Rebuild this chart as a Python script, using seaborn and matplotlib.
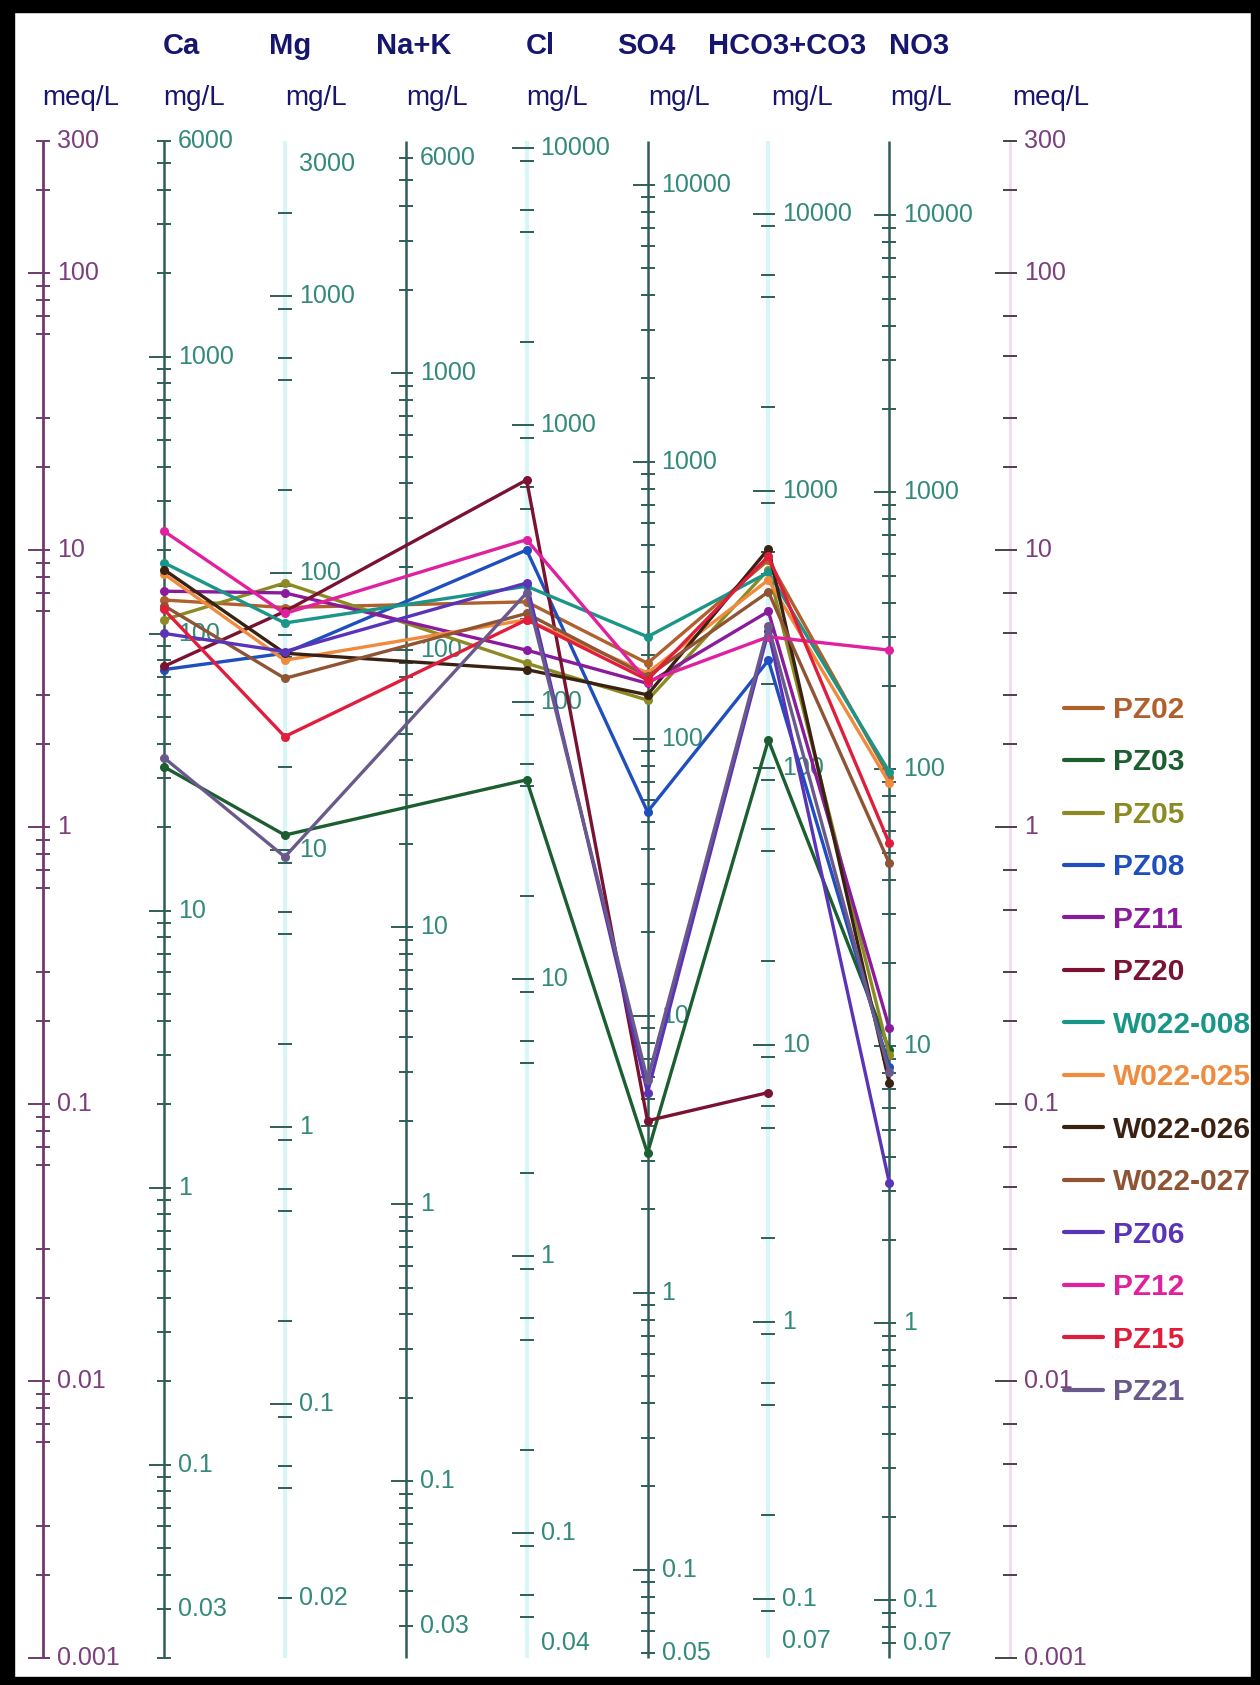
import numpy as np
import pandas as pd
import matplotlib
matplotlib.use("Agg")
import matplotlib.pyplot as plt
import seaborn as sns
from matplotlib.lines import Line2D
from matplotlib.patches import Rectangle

# ---------------- data (meq/L) ----------------
samples = ["PZ02", "PZ03", "PZ05", "PZ08", "PZ11", "PZ20", "W022-008", "W022-025",
           "W022-026", "W022-027", "PZ06", "PZ12", "PZ15", "PZ21"]
colors = ["#b0602c", "#1b5e30", "#8c8a22", "#1f4fbf", "#8a1c9c", "#7a1232", "#1a9688",
          "#f08a3c", "#3a2212", "#8e5434", "#5a34b8", "#e0209e", "#e01e3c", "#6a5a8c"]
ions = ["Ca", "Mg", "Na+K", "Cl", "SO4", "HCO3+CO3", "NO3"]
ca   = [6.6, 1.65, 5.6, 3.7, 7.1, 3.8, 9.0, 8.2, 8.5, 6.3, 5.0, 11.7, 6.1, 1.78]
mg   = [6.2, 0.935, 7.6, 4.24, 7.0, 6.0, 5.45, 4.0, 4.24, 3.44, 4.3, 5.9, 2.12, 0.78]
nak  = [np.nan] * 14
cl   = [6.5, 1.48, 3.9, 10.0, 4.35, 17.9, 7.4, 5.6, 3.7, 5.9, 7.6, 10.9, 5.6, 7.0]
so4  = [3.9, 0.0665, 2.87, 1.135, 3.3, 0.087, 4.86, 3.6, 3.0, 3.5, 0.11, 3.35, 3.4, 0.122]
hco3 = [9.2, 2.06, 8.5, 4.0, 6.0, 0.11, 8.3, 7.8, 10.1, 7.06, 5.1, 4.86, 9.5, 5.3]
no3  = [1.52, 0.157, 0.15, 0.136, 0.188, np.nan, 1.58, 1.44, 0.119, 0.74, 0.052, 4.35, 0.873, 0.13]

# axis scales: equivalent weights (mg per meq) and printed labels
axis_names = ["meq/L", "Ca", "Mg", "Na+K", "Cl", "SO4", "HCO3+CO3", "NO3", "meq/L"]
eq_weights = [1.0, 20.04, 12.15, 23.0, 35.45, 48.03, 61.0, 62.0, 1.0]
axis_labels = [
    [300, 100, 10, 1, 0.1, 0.01, 0.001],
    [6000, 1000, 100, 10, 1, 0.1, 0.03],
    [3000, 1000, 100, 10, 1, 0.1, 0.02],
    [6000, 1000, 100, 10, 1, 0.1, 0.03],
    [10000, 1000, 100, 10, 1, 0.1, 0.04],
    [10000, 1000, 100, 10, 1, 0.1, 0.05],
    [10000, 1000, 100, 10, 1, 0.1, 0.07],
    [10000, 1000, 100, 10, 1, 0.1, 0.07],
    [300, 100, 10, 1, 0.1, 0.01, 0.001],
]

# ---------------- long table ----------------
rows = []
for j, s in enumerate(samples):
    for k, vals in enumerate([ca, mg, nak, cl, so4, hco3, no3]):
        rows.append({"sample": s, "pos": k + 1, "meq": vals[j]})
df = pd.DataFrame(rows).dropna()

# ---------------- figure ----------------
sns.set_theme(style="white")
plt.rcParams["font.family"] = ["Liberation Sans", "DejaVu Sans"]

W, H = 1260, 1685
fig = plt.figure(figsize=(W / 100, H / 100), dpi=100)
ax = fig.add_axes([0, 0, 1, 1])
X0, DX = 43.0, 120.9      # pixel x of first axis, spacing
Y100, DEC = 273.0, 277.0  # pixel y of 100 meq/L, pixels per decade
XL = (-X0 / DX, (W - X0) / DX)
YL = (10 ** (2 - (H - Y100) / DEC), 10 ** (2 + Y100 / DEC))
ax.set_xlim(*XL)
ax.set_yscale("log")
ax.set_ylim(*YL)
ax.axis("off")
px = 1.0 / DX  # one pixel in x data units

DARK = "#2f5d57"
LIGHT = "#d9f6f6"
LBL = "#33897a"
PUR = "#6e3b6e"
PURL = "#7b3f7b"
full = list(range(1, 10))
sparse = [1, 2, 5, 6, 9]
meqm = [1, 2, 3, 6, 7, 8, 9]
styles = [
    (PUR, 2.0, PUR, PURL, meqm),
    (DARK, 1.8, DARK, LBL, full),
    (LIGHT, 3.0, DARK, LBL, sparse),
    (DARK, 1.8, DARK, LBL, full),
    (LIGHT, 3.0, DARK, LBL, sparse),
    (DARK, 1.8, DARK, LBL, full),
    (LIGHT, 3.0, DARK, LBL, sparse),
    (DARK, 1.8, DARK, LBL, full),
    ("#f5d8f5", 2.0, "#444444", PURL, [1, 2, 3, 5, 7]),
]

for i, (eqw, labs, st) in enumerate(zip(eq_weights, axis_labels, styles)):
    lc, lw, tc, txc, mset = st
    ax.vlines(i, 0.001, 300, color=lc, lw=lw, zorder=1)
    for k in range(-3, 6):
        for m in mset:
            v = m * 10.0 ** k
            q = v / eqw
            if 0.00099 <= q <= 300.5:
                if m == 1:
                    ax.hlines(q, i - 15 * px, i + 7 * px, color=tc, lw=1.4, zorder=1)
                else:
                    ax.hlines(q, i - 7 * px, i + 7 * px, color=tc, lw=1.4, zorder=1)
    for v in labs:
        ax.text(i + 14 * px, v / eqw, f"{v:g}", color=txc, fontsize=18,
                ha="left", va="center", zorder=2)

# ---------------- sample lines ----------------
pal = dict(zip(samples, colors))
sns.lineplot(data=df, x="pos", y="meq", hue="sample", hue_order=samples, palette=pal,
             estimator=None, sort=False, marker="o", markersize=6.5, markeredgewidth=0,
             lw=2.4, legend=False, ax=ax, zorder=3)
ax.set_xlim(*XL)
ax.set_ylim(*YL)
ax.axis("off")

# ---------------- headers ----------------
NAVY = "#16166e"
head_x = [None, 163, 269, 376, 526, 617, 708, 889, None]
for name, hx in zip(axis_names, head_x):
    if hx is not None:
        fig.text(hx / W, 1 - 46 / H, name, color=NAVY, fontsize=21, fontweight="bold",
                 ha="left", va="center")
unit_x = [42, 163, 285, 406, 526, 648, 771, 890, 1012]
for i, ux in enumerate(unit_x):
    unit = "meq/L" if eq_weights[i] == 1.0 else "mg/L"
    fig.text(ux / W, 1 - 98 / H, unit, color=NAVY, fontsize=20, ha="left", va="center")

# ---------------- legend ----------------
handles = [Line2D([0], [0], color=c, lw=3) for c in colors]
leg = ax.legend(handles, samples, loc="upper left", bbox_to_anchor=(1064 / W, 1 - 696 / H),
                bbox_transform=fig.transFigure, frameon=False, borderpad=0, borderaxespad=0,
                handlelength=1.3, handletextpad=0.35, labelspacing=0.82,
                prop={"weight": "bold", "size": 21.5})
for t, c in zip(leg.get_texts(), colors):
    t.set_color(c)

# ---------------- black frame ----------------
for (x, y, w, h) in [(0, 0, 14, H), (0, 0, W, 12), (W - 9, 0, 9, H), (0, H - 8, W, 8)]:
    fig.patches.append(Rectangle((x / W, 1 - (y + h) / H), w / W, h / H, transform=fig.transFigure,
                                 color="black", zorder=10))

fig.savefig("out.png", dpi=100, facecolor="white")
